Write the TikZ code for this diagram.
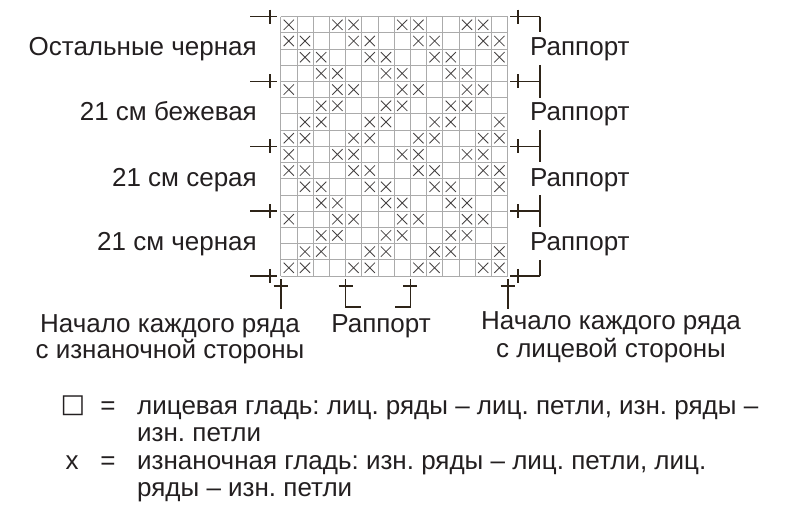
\documentclass[tikz,border=0pt]{standalone}
\usepackage{fontspec}
\setmainfont{Liberation Sans}
\newfontfamily\symfont{DejaVu Sans}
\usetikzlibrary{shapes.misc}
\definecolor{ink}{HTML}{231F20}
\definecolor{gridgray}{HTML}{ABABAB}
\definecolor{markbrown}{HTML}{2E2418}
\tikzset{
    lbl/.style={text=ink, font=\fontsize{26}{29}\selectfont, inner sep=0pt},
    xmark/.style={cross out, draw=ink!85, minimum size=9.5pt, inner sep=0pt, line width=0.8pt},
    tick/.style={draw=markbrown, line width=1.6pt},
}
\frenchspacing
\begin{document}
\begin{tikzpicture}[x=1pt, y=-1pt]
    \useasboundingbox (0,0) rectangle (800,516);

    \begin{scope}[shift={(280.7,16.7)}, x=16.2pt, y=-16.2pt]
        \foreach \c in {0,...,14}
            \draw[gridgray, line width=0.8pt] (\c,0) -- (\c,16);
        \foreach \r in {0,...,16}
            \draw[gridgray, line width=0.8pt] (0,\r) -- (14,\r);
        \foreach \r/\a/\b in {0/0/3,1/0/1,2/1/2,3/2/3,4/0/3,5/2/3,6/1/2,7/0/1,
                              8/0/3,9/0/1,10/1/2,11/2/3,12/0/3,13/2/3,14/1/2,15/0/1}
            \foreach \k in {0,4,8,12} {
                \pgfmathtruncatemacro\ca{\k+\a}
                \pgfmathtruncatemacro\cb{\k+\b}
                \ifnum\ca<14 \node[xmark] (x-\r-\ca) at (\ca+0.5,\r+0.5) {}; \fi
                \ifnum\cb<14 \node[xmark] (x-\r-\cb) at (\cb+0.5,\r+0.5) {}; \fi
            }
    \end{scope}

    \foreach \y in {16.7,81.5,146.3,211.1,275.9} {
        \draw[tick] (250,\y) -- (277,\y);
        \draw[tick] (270,\y-7) -- (270,\y+7);
        \draw[tick] (518,\y-7) -- (518,\y+7);
        \draw[tick] (510,\y) -- (540,\y);
    }
    \draw[tick] (540,16.7) -- (540,32);
    \draw[tick] (540,65) -- (540,98);
    \draw[tick] (540,130) -- (540,162);
    \draw[tick] (540,195) -- (540,227);
    \draw[tick] (540,260) -- (540,275.9);

    \draw[tick] (280.7,279) -- (280.7,309);
    \draw[tick] (273.7,286) -- (287.7,286);
    \draw[tick] (345.5,279) -- (345.5,307) -- (361,307);
    \draw[tick] (338.5,286) -- (352.5,286);
    \draw[tick] (410.3,279) -- (410.3,307) -- (395,307);
    \draw[tick] (403.3,286) -- (417.3,286);
    \draw[tick] (507.7,279) -- (507.7,309);
    \draw[tick] (500.7,286) -- (514.7,286);

    \node[lbl, anchor=base east] (col-rest) at (257,56) {Остальные черная};
    \node[lbl, anchor=base east] (col-beige) at (257,121) {21 см бежевая};
    \node[lbl, anchor=base east] (col-grey) at (257,186) {21 см серая};
    \node[lbl, anchor=base east] (col-black) at (257,250.5) {21 см черная};

    \node[lbl, anchor=base west] (rep-1) at (530,56) {Раппорт};
    \node[lbl, anchor=base west] (rep-2) at (530,121) {Раппорт};
    \node[lbl, anchor=base west] (rep-3) at (530,186) {Раппорт};
    \node[lbl, anchor=base west] (rep-4) at (530,250.5) {Раппорт};

    \node[lbl, anchor=base] (ws-1) at (170,332) {Начало каждого ряда};
    \node[lbl, anchor=base] (ws-2) at (170,358) {с изнаночной стороны};
    \node[lbl, anchor=base] (rep-st) at (381,332) {Раппорт};
    \node[lbl, anchor=base] (rs-1) at (611,329) {Начало каждого ряда};
    \node[lbl, anchor=base] (rs-2) at (611,357) {с лицевой стороны};

    \node[lbl, font=\symfont\fontsize{26}{29}\selectfont] (key-sq) at (73,406) {□};
    \node[lbl, anchor=base] (eq-1) at (108,414) {=};
    \node[lbl, anchor=base west] (kt-1) at (137,414) {лицевая гладь: лиц. ряды – лиц. петли, изн. ряды –};
    \node[lbl, anchor=base west] (kt-2) at (137,441) {изн. петли};
    \node[lbl, anchor=base] (key-x) at (72,469) {x};
    \node[lbl, anchor=base] (eq-2) at (108,469) {=};
    \node[lbl, anchor=base west] (kt-3) at (137,469) {изнаночная гладь: изн. ряды – лиц. петли, лиц.};
    \node[lbl, anchor=base west] (kt-4) at (137,496) {ряды – изн. петли};
\end{tikzpicture}
\end{document}
